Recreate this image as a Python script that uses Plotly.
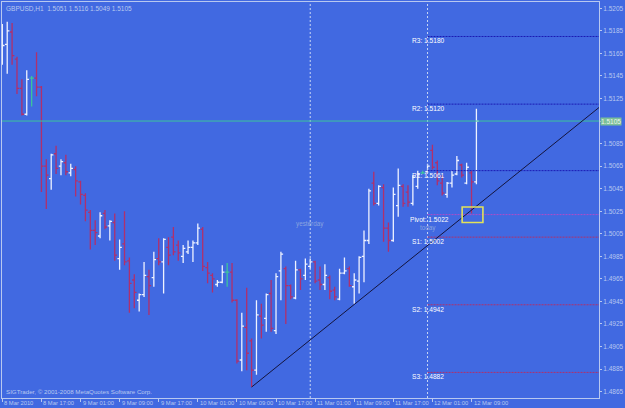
import pandas as pd
import plotly.graph_objects as go

# ---------------- data ----------------
symbol = "GBPUSD,H1"
first_bar = "2010-03-08 09:00"

opens = [1.5163, 1.5173, 1.5184, 1.5160, 1.5134, 1.5111, 1.5143, 1.5143, 1.5135, 1.5065,
         1.5054, 1.5076, 1.5065, 1.5068, 1.5059, 1.5062, 1.5051, 1.5039, 1.5024, 1.5008,
         1.5003, 1.5023, 1.5012, 1.5015, 1.4983, 1.4996, 1.4981, 1.4964, 1.4946, 1.4951,
         1.4967, 1.4966, 1.4983, 1.4980, 1.4993, 1.5002, 1.4995, 1.4985, 1.4989, 1.4993,
         1.4997, 1.5009, 1.4975, 1.4968, 1.4960, 1.4962, 1.4971, 1.4971, 1.4946, 1.4893,
         1.4922, 1.4910, 1.4884, 1.4932, 1.4930, 1.4952, 1.4919, 1.4972, 1.4974, 1.4959,
         1.4948, 1.4973, 1.4968, 1.4976, 1.4980, 1.4964, 1.4960, 1.4966, 1.4955, 1.4947,
         1.4970, 1.4974, 1.4958, 1.4963, 1.4985, 1.4999, 1.5050, 1.5032, 1.5046, 1.5010,
         1.4999, 1.5030, 1.5047, 1.5042, 1.5032, 1.5047, 1.5059, 1.5060, 1.5079, 1.5068,
         1.5050, 1.5040, 1.5050, 1.5058, 1.5066, 1.5050, 1.5059, 1.5051]
highs = [1.5191, 1.5193, 1.5192, 1.5162, 1.5142, 1.5150, 1.5145, 1.5166, 1.5136, 1.5071,
         1.5076, 1.5083, 1.5071, 1.5075, 1.5067, 1.5065, 1.5052, 1.5041, 1.5026, 1.5017,
         1.5024, 1.5026, 1.5017, 1.5023, 1.5000, 1.5025, 1.4984, 1.4969, 1.4952, 1.4980,
         1.4973, 1.4989, 1.5001, 1.5001, 1.5002, 1.5011, 1.4999, 1.4995, 1.4999, 1.4999,
         1.5014, 1.5011, 1.4980, 1.4970, 1.4964, 1.4977, 1.4979, 1.4979, 1.4947, 1.4935,
         1.4957, 1.4912, 1.4946, 1.4943, 1.4952, 1.4964, 1.4970, 1.4989, 1.4976, 1.4960,
         1.4981, 1.4974, 1.4983, 1.4983, 1.4981, 1.4976, 1.4978, 1.4968, 1.4958, 1.4974,
         1.4984, 1.4976, 1.4970, 1.4985, 1.5008, 1.5045, 1.5060, 1.5048, 1.5049, 1.5015,
         1.5046, 1.5063, 1.5049, 1.5048, 1.5057, 1.5061, 1.5061, 1.5067, 1.5084, 1.5070,
         1.5057, 1.5051, 1.5061, 1.5074, 1.5067, 1.5068, 1.5061, 1.5116]
lows = [1.5155, 1.5147, 1.5155, 1.5129, 1.5110, 1.5110, 1.5118, 1.5127, 1.5042, 1.5027,
        1.5044, 1.5058, 1.5057, 1.5057, 1.5056, 1.5038, 1.5031, 1.5016, 1.4991, 1.4995,
        1.5001, 1.5009, 1.4999, 1.4981, 1.4973, 1.4977, 1.4935, 1.4939, 1.4936, 1.4949,
        1.4933, 1.4958, 1.4977, 1.4952, 1.4977, 1.4986, 1.4981, 1.4979, 1.4987, 1.4980,
        1.4995, 1.4972, 1.4961, 1.4953, 1.4958, 1.4961, 1.4958, 1.4944, 1.4890, 1.4883,
        1.4884, 1.4869, 1.4880, 1.4912, 1.4918, 1.4918, 1.4916, 1.4946, 1.4925, 1.4947,
        1.4947, 1.4955, 1.4964, 1.4974, 1.4961, 1.4955, 1.4955, 1.4947, 1.4946, 1.4946,
        1.4969, 1.4958, 1.4943, 1.4952, 1.4962, 1.4996, 1.5030, 1.5030, 1.4998, 1.4989,
        1.4998, 1.5020, 1.5029, 1.5029, 1.5030, 1.5045, 1.5058, 1.5059, 1.5062, 1.5048,
        1.5039, 1.5037, 1.5046, 1.5057, 1.5055, 1.5049, 1.5023, 1.5049]
closes = [1.5172, 1.5185, 1.5163, 1.5134, 1.5111, 1.5142, 1.5143, 1.5135, 1.5065, 1.5057,
          1.5075, 1.5063, 1.5069, 1.5060, 1.5063, 1.5052, 1.5040, 1.5026, 1.5008, 1.5006,
          1.5021, 1.5011, 1.5016, 1.4986, 1.4993, 1.4980, 1.4961, 1.4953, 1.4951, 1.4968,
          1.4959, 1.4982, 1.4980, 1.5000, 1.4986, 1.4989, 1.4988, 1.4992, 1.4993, 1.4997,
          1.5010, 1.4976, 1.4970, 1.4965, 1.4962, 1.4971, 1.4971, 1.4946, 1.4892, 1.4923,
          1.4899, 1.4884, 1.4933, 1.4924, 1.4951, 1.4921, 1.4967, 1.4987, 1.4959, 1.4949,
          1.4973, 1.4965, 1.4978, 1.4980, 1.4963, 1.4960, 1.4968, 1.4954, 1.4949, 1.4970,
          1.4972, 1.4959, 1.4964, 1.4984, 1.4999, 1.5043, 1.5032, 1.5047, 1.5010, 1.4999,
          1.5040, 1.5048, 1.5032, 1.5033, 1.5055, 1.5058, 1.5059, 1.5065, 1.5064, 1.5052,
          1.5041, 1.5050, 1.5057, 1.5070, 1.5057, 1.5064, 1.5051, 1.5105]

pivot_names = ["R3", "R2", "R1", "Pivot", "S1", "S2", "S3"]
pivot_values = [1.5180, 1.5120, 1.5061, 1.5022, 1.5002, 1.4942, 1.4882]
pivot_kind = ["r", "r", "r", "p", "s", "s", "s"]

bid_price = 1.5105

y_ticks = [1.5205, 1.5185, 1.5165, 1.5145, 1.5125, 1.5105, 1.5085, 1.5065, 1.5045,
           1.5025, 1.5005, 1.4985, 1.4965, 1.4945, 1.4925, 1.4905, 1.4885, 1.4865]

x_tick_times = ["2010-03-08 09:00", "2010-03-08 17:00", "2010-03-09 01:00", "2010-03-09 09:00",
                "2010-03-09 17:00", "2010-03-10 01:00", "2010-03-10 09:00", "2010-03-10 17:00",
                "2010-03-11 01:00", "2010-03-11 09:00", "2010-03-11 17:00", "2010-03-12 01:00",
                "2010-03-12 09:00"]
x_tick_labels = ["8 Mar 2010", "8 Mar 17:00", "9 Mar 01:00", "9 Mar 09:00", "9 Mar 17:00",
                 "10 Mar 01:00", "10 Mar 09:00", "10 Mar 17:00", "11 Mar 01:00", "11 Mar 09:00",
                 "11 Mar 17:00", "12 Mar 01:00", "12 Mar 09:00"]

day_starts = ["2010-03-11 00:00", "2010-03-12 00:00"]
day_names = ["yesterday", "today"]

trend_times = ["2010-03-10 12:00", "2010-03-13 11:05"]
trend_prices = [1.4869, 1.5117]

copyright_text = "SIGTrader, © 2001-2008 MetaQuotes Software Corp."

# ---------------- styles ----------------
BG = "#4169E1"
FG = "#b8c8f0"
UP = "#eef2ff"
DOWN = "#b0306c"
DOJI = "#3cc39c"
FONT = "Liberation Sans"
kind_color = {"r": "#1a1ab4", "p": "#b04cc8", "s": "#b0306c"}

x_range = ["2010-03-08 08:56", "2010-03-13 11:05"]
y_range = [1.48593, 1.52106]

times = pd.date_range(first_bar, periods=len(opens), freq="h")
doji = [o == c for o, c in zip(opens, closes)]

fig = go.Figure()

def sub(seq, mask):
    return [v for v, m in zip(seq, mask) if m]

normal = [not d for d in doji]
fig.add_trace(go.Ohlc(
    x=sub(times, normal), open=sub(opens, normal), high=sub(highs, normal),
    low=sub(lows, normal), close=sub(closes, normal),
    increasing=dict(line=dict(color=UP, width=1.3)),
    decreasing=dict(line=dict(color=DOWN, width=1.3)),
    tickwidth=0.45, hoverinfo="skip"))
fig.add_trace(go.Ohlc(
    x=sub(times, doji), open=sub(opens, doji), high=sub(highs, doji),
    low=sub(lows, doji), close=sub(closes, doji),
    increasing=dict(line=dict(color=DOJI, width=1.3)),
    decreasing=dict(line=dict(color=DOJI, width=1.3)),
    tickwidth=0.45, hoverinfo="skip"))

shapes = []
# day separators
for d in day_starts:
    shapes.append(dict(type="line", xref="x", yref="paper", x0=d, x1=d, y0=0, y1=1,
                       line=dict(color="#c8d6f4", width=1, dash="2px,2px")))
# bid line
shapes.append(dict(type="line", xref="paper", yref="y", x0=0, x1=1, y0=bid_price, y1=bid_price,
                   line=dict(color=DOJI, width=1)))
# pivot levels
for name, val, k in zip(pivot_names, pivot_values, pivot_kind):
    shapes.append(dict(type="line", xref="x", yref="y", x0=day_starts[-1], x1=x_range[1],
                       y0=val, y1=val, line=dict(color=kind_color[k], width=1, dash="2px,1px")))
# trend line
shapes.append(dict(type="line", xref="x", yref="y", x0=trend_times[0], x1=trend_times[1],
                   y0=trend_prices[0], y1=trend_prices[1], line=dict(color="#14143c", width=1)))
# yellow marker box
shapes.append(dict(type="rect", xref="x", yref="y", x0="2010-03-12 07:05", x1="2010-03-12 11:20",
                   y0=1.50150, y1=1.50288, line=dict(color="#e2e25a", width=1.6)))

ann = []
# title
ann.append(dict(xref="paper", yref="paper", x=0, y=1, xanchor="left", yanchor="top",
                xshift=2, yshift=-1, showarrow=False,
                text=f"{symbol}  {opens[-1]:.4f} {highs[-1]:.4f} {lows[-1]:.4f} {closes[-1]:.4f}",
                font=dict(family=FONT, size=6.5, color=FG)))
# copyright
ann.append(dict(xref="paper", yref="paper", x=0, y=0, xanchor="left", yanchor="bottom",
                xshift=2, yshift=1, showarrow=False, text=copyright_text,
                font=dict(family=FONT, size=6.2, color=FG)))
# x labels
for t, lab in zip(x_tick_times, x_tick_labels):
    ann.append(dict(xref="x", yref="paper", x=t, y=0, xanchor="left", yanchor="top",
                    xshift=0, yshift=0, showarrow=False, text=lab,
                    font=dict(family=FONT, size=5.8, color=FG)))
# pivot labels
for name, val in zip(pivot_names, pivot_values):
    ann.append(dict(xref="x", yref="y", x="2010-03-11 20:30" if name != "Pivot" else "2010-03-11 20:00",
                    y=val, xanchor="left", yanchor="top", yshift=1, showarrow=False,
                    text=f"{name}: {val:.4f}", font=dict(family=FONT, size=6.6, color="#ffffff")))
# yesterday / today
for d, nm, yv in zip(day_starts, day_names, [1.5014, 1.5010]):
    ann.append(dict(xref="x", yref="y", x=d, y=yv, xanchor="center", yanchor="middle",
                    showarrow=False, text=nm, font=dict(family=FONT, size=6.3, color="#8aa4e0")))
# current price label (covers the axis label at the bid level)
ann.append(dict(xref="paper", yref="y", x=1, y=bid_price, xanchor="left", yanchor="middle",
                xshift=1, showarrow=False, text=f"{bid_price:.4f}", bgcolor="#7cbf98",
                borderpad=0, font=dict(family=FONT, size=6.5, color="#eef6ee")))

fig.update_layout(
    width=625, height=408, margin=dict(l=1, r=23, t=1, b=10),
    paper_bgcolor=BG, plot_bgcolor=BG, showlegend=False,
    shapes=shapes, annotations=ann,
    xaxis=dict(type="date", range=x_range, rangeslider=dict(visible=False), showgrid=False,
               zeroline=False, showline=True, linecolor=FG, linewidth=1, mirror=True,
               ticks="outside", ticklen=3, tickcolor=FG, tickvals=x_tick_times,
               showticklabels=False, fixedrange=True),
    yaxis=dict(side="right", range=y_range, tickvals=y_ticks,
               ticktext=["" if v == bid_price else f"{v:.4f}" for v in y_ticks],
               showgrid=False, zeroline=False,
               showline=True, linecolor=FG, linewidth=1, mirror=True, ticks="outside",
               ticklen=2, tickcolor=FG, tickfont=dict(family=FONT, size=6.5, color=FG)),
)

fig.write_html("out.html")
